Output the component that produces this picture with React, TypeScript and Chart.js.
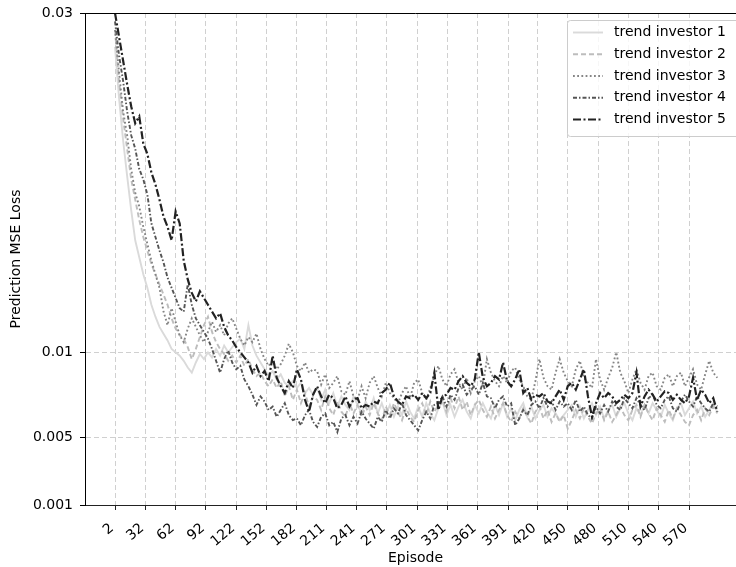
import React, { useEffect, useRef } from "react";
import { Chart, registerables } from "chart.js";

Chart.register(...registerables);

const EPISODES = [
  2, 6, 10, 14, 18, 22, 26, 30, 34, 38, 42, 46, 50, 54, 58, 62, 66, 70, 74, 78,
  82, 86, 90, 94, 98, 102, 106, 110, 114, 118, 122, 126, 130, 134, 138, 142, 146, 150, 154, 158,
  162, 166, 170, 174, 178, 182, 186, 190, 194, 198, 202, 206, 210, 214, 218, 222, 226, 230, 234, 238,
  242, 246, 250, 254, 258, 262, 266, 270, 274, 278, 282, 286, 290, 294, 298, 302, 306, 310, 314, 318,
  322, 326, 330, 334, 338, 342, 346, 350, 354, 358, 362, 366, 370, 374, 378, 382, 386, 390, 394, 398,
  402, 406, 410, 414, 418, 422, 426, 430, 434, 438, 442, 446, 450, 454, 458, 462, 466, 470, 474, 478,
  482, 486, 490, 494, 498, 502, 506, 510, 514, 518, 522, 526, 530, 534, 538, 542, 546, 550, 554, 558,
  562, 566, 570, 574, 578, 582, 586, 590, 594, 598,
];

const X_TICKS = [2, 32, 62, 92, 122, 152, 182, 211, 241, 271, 301, 331, 361, 391, 420, 450, 480, 510, 540, 570];
const Y_TICKS = [0.001, 0.005, 0.01, 0.03];

const SERIES_NAMES = ["trend investor 1", "trend investor 2", "trend investor 3", "trend investor 4", "trend investor 5"];

const TREND_1 = [
  0.0280, 0.0250, 0.0225, 0.0204, 0.0184, 0.0166, 0.0156, 0.0146, 0.0138, 0.0128,
  0.0121, 0.0115, 0.0111, 0.0107, 0.0102, 0.0100, 0.0098, 0.0095, 0.0091, 0.0088,
  0.0094, 0.0099, 0.0096, 0.0100, 0.0097, 0.0102, 0.0098, 0.0104, 0.0100, 0.0103,
  0.0106, 0.0108, 0.0102, 0.0116, 0.0104, 0.0098, 0.0094, 0.0090, 0.0086, 0.0089,
  0.0084, 0.0087, 0.0082, 0.0080, 0.0083, 0.0079, 0.0082, 0.0076, 0.0079, 0.0075,
  0.0079, 0.0072, 0.0078, 0.0070, 0.0076, 0.0068, 0.0074, 0.0069, 0.0066, 0.0074,
  0.0069, 0.0064, 0.0071, 0.0066, 0.0073, 0.0064, 0.0070, 0.0063, 0.0069, 0.0062,
  0.0068, 0.0063, 0.0071, 0.0065, 0.0061, 0.0068, 0.0062, 0.0070, 0.0064, 0.0060,
  0.0067, 0.0071, 0.0063, 0.0069, 0.0062, 0.0068, 0.0072, 0.0065, 0.0061, 0.0069,
  0.0064, 0.0070, 0.0065, 0.0061, 0.0069, 0.0063, 0.0070, 0.0062, 0.0067, 0.0060,
  0.0066, 0.0070, 0.0062, 0.0068, 0.0061, 0.0066, 0.0069, 0.0062, 0.0067, 0.0064,
  0.0060, 0.0063, 0.0066, 0.0069, 0.0062, 0.0068, 0.0061, 0.0066, 0.0070, 0.0063,
  0.0068, 0.0061, 0.0066, 0.0069, 0.0062, 0.0067, 0.0070, 0.0064, 0.0060, 0.0067,
  0.0063, 0.0069, 0.0064, 0.0070, 0.0066, 0.0062, 0.0069, 0.0064, 0.0060, 0.0067,
  0.0070, 0.0063, 0.0067, 0.0071, 0.0064, 0.0068, 0.0062, 0.0066, 0.0070, 0.0065,
];

const TREND_2 = [
  0.0290, 0.0260, 0.0238, 0.0220, 0.0202, 0.0190, 0.0178, 0.0168, 0.0160, 0.0152,
  0.0146, 0.0140, 0.0134, 0.0128, 0.0120, 0.0114, 0.0110, 0.0108, 0.0103, 0.0096,
  0.0102, 0.0109, 0.0116, 0.0121, 0.0112, 0.0106, 0.0102, 0.0099, 0.0095, 0.0098,
  0.0094, 0.0098, 0.0092, 0.0096, 0.0090, 0.0086, 0.0088, 0.0083, 0.0080, 0.0084,
  0.0079, 0.0083, 0.0074, 0.0080, 0.0072, 0.0078, 0.0070, 0.0076, 0.0068, 0.0074,
  0.0072, 0.0066, 0.0074, 0.0067, 0.0063, 0.0071, 0.0065, 0.0062, 0.0070, 0.0064,
  0.0069, 0.0062, 0.0068, 0.0063, 0.0070, 0.0064, 0.0060, 0.0068, 0.0063, 0.0070,
  0.0065, 0.0060, 0.0067, 0.0062, 0.0059, 0.0066, 0.0070, 0.0063, 0.0071, 0.0065,
  0.0069, 0.0072, 0.0065, 0.0073, 0.0067, 0.0074, 0.0066, 0.0071, 0.0063, 0.0069,
  0.0072, 0.0066, 0.0062, 0.0068, 0.0061, 0.0066, 0.0070, 0.0063, 0.0059, 0.0065,
  0.0061, 0.0067, 0.0062, 0.0058, 0.0065, 0.0068, 0.0061, 0.0066, 0.0059, 0.0064,
  0.0059, 0.0063, 0.0055, 0.0060, 0.0066, 0.0061, 0.0067, 0.0062, 0.0058, 0.0064,
  0.0067, 0.0060, 0.0065, 0.0059, 0.0063, 0.0068, 0.0063, 0.0060, 0.0066, 0.0069,
  0.0062, 0.0069, 0.0064, 0.0060, 0.0067, 0.0063, 0.0059, 0.0066, 0.0061, 0.0067,
  0.0063, 0.0059, 0.0057, 0.0063, 0.0066, 0.0060, 0.0067, 0.0063, 0.0068, 0.0064,
];

const TREND_3 = [
  0.0290, 0.0265, 0.0242, 0.0228, 0.0208, 0.0194, 0.0186, 0.0174, 0.0164, 0.0154,
  0.0146, 0.0138, 0.0124, 0.0116, 0.0126, 0.0118, 0.0110, 0.0106, 0.0114, 0.0120,
  0.0115, 0.0110, 0.0106, 0.0112, 0.0118, 0.0112, 0.0116, 0.0110, 0.0117, 0.0120,
  0.0114, 0.0108, 0.0104, 0.0109, 0.0106, 0.0111, 0.0102, 0.0096, 0.0092, 0.0095,
  0.0090, 0.0093, 0.0098, 0.0105, 0.0100, 0.0092, 0.0089, 0.0094, 0.0088, 0.0090,
  0.0089, 0.0081, 0.0087, 0.0079, 0.0082, 0.0086, 0.0077, 0.0075, 0.0083, 0.0074,
  0.0072, 0.0080, 0.0073, 0.0082, 0.0086, 0.0079, 0.0074, 0.0082, 0.0076, 0.0073,
  0.0070, 0.0076, 0.0080, 0.0073, 0.0082, 0.0084, 0.0076, 0.0072, 0.0079, 0.0086,
  0.0092, 0.0084, 0.0080, 0.0087, 0.0090, 0.0082, 0.0078, 0.0085, 0.0076, 0.0083,
  0.0086, 0.0080, 0.0096, 0.0088, 0.0083, 0.0080, 0.0086, 0.0082, 0.0089, 0.0091,
  0.0084, 0.0080, 0.0074, 0.0072, 0.0083, 0.0096, 0.0085, 0.0080, 0.0078, 0.0088,
  0.0096, 0.0088, 0.0083, 0.0080, 0.0090, 0.0095, 0.0085, 0.0082, 0.0079, 0.0096,
  0.0084, 0.0078, 0.0085, 0.0091, 0.0100, 0.0088, 0.0083, 0.0076, 0.0084, 0.0090,
  0.0082, 0.0078, 0.0086, 0.0088, 0.0080, 0.0078, 0.0085, 0.0087, 0.0080, 0.0086,
  0.0088, 0.0080, 0.0085, 0.0090, 0.0081, 0.0078, 0.0087, 0.0095, 0.0088, 0.0085,
];

const TREND_4 = [
  0.0295, 0.0275, 0.0260, 0.0242, 0.0228, 0.0220, 0.0208, 0.0202, 0.0193, 0.0176,
  0.0168, 0.0160, 0.0153, 0.0144, 0.0138, 0.0132, 0.0126, 0.0124, 0.0140, 0.0128,
  0.0120, 0.0116, 0.0112, 0.0108, 0.0102, 0.0095, 0.0088, 0.0096, 0.0101, 0.0094,
  0.0090, 0.0092, 0.0084, 0.0080, 0.0075, 0.0069, 0.0074, 0.0071, 0.0066, 0.0068,
  0.0062, 0.0066, 0.0070, 0.0063, 0.0060, 0.0061, 0.0057, 0.0063, 0.0066, 0.0059,
  0.0056, 0.0062, 0.0064, 0.0057, 0.0059, 0.0053, 0.0061, 0.0063, 0.0057, 0.0062,
  0.0058, 0.0065, 0.0061, 0.0058, 0.0055, 0.0062, 0.0059, 0.0066, 0.0061, 0.0067,
  0.0064, 0.0070, 0.0063, 0.0060, 0.0057, 0.0054, 0.0060, 0.0065, 0.0061, 0.0069,
  0.0070, 0.0074, 0.0068, 0.0075, 0.0072, 0.0079, 0.0081, 0.0075, 0.0078, 0.0080,
  0.0075, 0.0082, 0.0074, 0.0073, 0.0067, 0.0072, 0.0074, 0.0068, 0.0070, 0.0057,
  0.0061, 0.0066, 0.0063, 0.0069, 0.0071, 0.0067, 0.0073, 0.0068, 0.0071, 0.0066,
  0.0071, 0.0068, 0.0070, 0.0066, 0.0072, 0.0065, 0.0068, 0.0063, 0.0061, 0.0068,
  0.0064, 0.0069, 0.0065, 0.0071, 0.0068, 0.0066, 0.0073, 0.0070, 0.0067, 0.0073,
  0.0069, 0.0066, 0.0073, 0.0075, 0.0069, 0.0067, 0.0072, 0.0074, 0.0067, 0.0065,
  0.0071, 0.0075, 0.0071, 0.0068, 0.0074, 0.0070, 0.0067, 0.0065, 0.0070, 0.0068,
];

const TREND_5 = [
  0.0300, 0.0286, 0.0272, 0.0258, 0.0245, 0.0235, 0.0239, 0.0223, 0.0217, 0.0206,
  0.0199, 0.0190, 0.0180, 0.0174, 0.0166, 0.0183, 0.0176, 0.0154, 0.0143, 0.0135,
  0.0130, 0.0136, 0.0132, 0.0128, 0.0124, 0.0120, 0.0123, 0.0115, 0.0110, 0.0107,
  0.0103, 0.0100, 0.0097, 0.0094, 0.0088, 0.0092, 0.0086, 0.0089, 0.0083, 0.0098,
  0.0085, 0.0080, 0.0076, 0.0083, 0.0079, 0.0090, 0.0084, 0.0072, 0.0065, 0.0075,
  0.0080, 0.0074, 0.0070, 0.0075, 0.0073, 0.0067, 0.0069, 0.0074, 0.0068, 0.0072,
  0.0073, 0.0067, 0.0069, 0.0068, 0.0071, 0.0070, 0.0076, 0.0078, 0.0082, 0.0074,
  0.0071, 0.0069, 0.0074, 0.0073, 0.0075, 0.0072, 0.0076, 0.0073, 0.0076, 0.0088,
  0.0066, 0.0074, 0.0075, 0.0079, 0.0078, 0.0083, 0.0086, 0.0082, 0.0080, 0.0084,
  0.0100, 0.0085, 0.0080, 0.0082, 0.0086, 0.0084, 0.0094, 0.0083, 0.0080, 0.0084,
  0.0090, 0.0076, 0.0079, 0.0072, 0.0075, 0.0074, 0.0076, 0.0071, 0.0070, 0.0074,
  0.0078, 0.0072, 0.0080, 0.0082, 0.0078, 0.0084, 0.0090, 0.0074, 0.0062, 0.0070,
  0.0076, 0.0073, 0.0076, 0.0074, 0.0070, 0.0072, 0.0075, 0.0073, 0.0076, 0.0088,
  0.0068, 0.0074, 0.0078, 0.0075, 0.0071, 0.0074, 0.0077, 0.0076, 0.0072, 0.0075,
  0.0072, 0.0070, 0.0074, 0.0085, 0.0072, 0.0078, 0.0075, 0.0070, 0.0073, 0.0065,
];

const SERIES = [TREND_1, TREND_2, TREND_3, TREND_4, TREND_5];
const COLORS = ["#dadada", "#bdbdbd", "#858585", "#555555", "#222222"];
const DASHES = [[], [5, 3], [1.8, 2.4], [4, 2, 1.5, 2], [8, 2.5, 2, 2.5]];
const WIDTHS = [1.9, 1.9, 1.9, 1.9, 2.2];

const FONT = "DejaVu Sans";
const FONT_SIZE = 14;
const CANVAS_W = 746;
const CANVAS_H = 567;

const framePlugin = {
  id: "frameAndLegend",
  afterDraw(chart: any) {
    const ctx = chart.ctx;
    const area = chart.chartArea;
    ctx.save();
    // top spine
    ctx.beginPath();
    ctx.strokeStyle = "#000000";
    ctx.lineWidth = 1;
    ctx.moveTo(area.left, Math.round(area.top) + 0.5);
    ctx.lineTo(area.right, Math.round(area.top) + 0.5);
    ctx.stroke();

    // legend box
    const bx = 567.5;
    const by = 20.5;
    const bw = 172;
    const bh = 116;
    ctx.beginPath();
    if ((ctx as any).roundRect) {
      (ctx as any).roundRect(bx, by, bw, bh, 3);
    } else {
      ctx.rect(bx, by, bw, bh);
    }
    ctx.fillStyle = "rgba(255,255,255,0.8)";
    ctx.fill();
    ctx.strokeStyle = "#cccccc";
    ctx.lineWidth = 1;
    ctx.stroke();

    ctx.font = `${FONT_SIZE}px "${FONT}"`;
    ctx.textBaseline = "middle";
    ctx.textAlign = "left";
    SERIES_NAMES.forEach((name, k) => {
      const y = 32.5 + k * 21.75;
      ctx.beginPath();
      ctx.setLineDash(DASHES[k]);
      ctx.strokeStyle = COLORS[k];
      ctx.lineWidth = WIDTHS[k];
      ctx.moveTo(573, y);
      ctx.lineTo(603, y);
      ctx.stroke();
      ctx.setLineDash([]);
      ctx.fillStyle = "#000000";
      ctx.fillText(name, 614, y);
    });
    ctx.restore();
  },
};

export default function App() {
  const canvasRef = useRef<HTMLCanvasElement | null>(null);

  useEffect(() => {
    const canvas = canvasRef.current;
    if (!canvas) return;
    Chart.defaults.font.family = FONT;
    Chart.defaults.font.size = FONT_SIZE;
    Chart.defaults.color = "#000000";

    const datasets = SERIES.map((values, k) => ({
      label: SERIES_NAMES[k],
      data: values.map((v, i) => ({ x: EPISODES[i], y: v })),
      borderColor: COLORS[k],
      backgroundColor: COLORS[k],
      borderWidth: WIDTHS[k],
      borderDash: DASHES[k],
      pointRadius: 0,
      tension: 0,
      fill: false,
      order: 5 - k,
    }));

    const chart = new Chart(canvas, {
      type: "line",
      data: { datasets },
      plugins: [framePlugin],
      options: {
        animation: false,
        responsive: false,
        devicePixelRatio: 1,
        layout: { padding: { top: 13, left: 0, right: 0, bottom: 0 } },
        plugins: { legend: { display: false }, tooltip: { enabled: false } },
        scales: {
          x: {
            type: "linear",
            min: -27.69,
            max: 626.4,
            afterBuildTicks: (scale: any) => {
              scale.ticks = X_TICKS.map((v) => ({ value: v }));
            },
            afterFit: (scale: any) => {
              scale.height = 62;
              scale.paddingLeft = 0;
              scale.paddingRight = 0;
            },
            ticks: {
              autoSkip: false,
              minRotation: 40,
              maxRotation: 40,
              padding: 10,
              labelOffset: -3,
              color: "#000000",
              font: { family: FONT, size: FONT_SIZE },
              callback: (v: any) => String(v),
            },
            grid: {
              color: "#d0d0d0",
              lineWidth: 1,
              drawTicks: true,
              tickLength: 5,
              tickColor: "#222222",
              tickWidth: 1,
              tickBorderDash: [],
            },
            border: { display: true, color: "#222222", width: 1, dash: [5, 3] },
            title: {
              display: true,
              text: "Episode",
              color: "#000000",
              font: { family: FONT, size: FONT_SIZE },
              padding: { top: 0, bottom: 0 },
            },
          },
          y: {
            type: "linear",
            min: 0.001,
            max: 0.03,
            afterBuildTicks: (scale: any) => {
              scale.ticks = Y_TICKS.map((v) => ({ value: v }));
            },
            afterFit: (scale: any) => {
              scale.width = 85;
              scale.paddingTop = 0;
              scale.paddingBottom = 0;
            },
            ticks: {
              autoSkip: false,
              padding: 7,
              color: "#000000",
              font: { family: FONT, size: FONT_SIZE },
              callback: (v: any) => String(v),
            },
            grid: {
              color: "#d0d0d0",
              lineWidth: 1,
              drawTicks: true,
              tickLength: 5,
              tickColor: "#000000",
              tickWidth: 1,
              tickBorderDash: [],
            },
            border: { display: true, color: "#000000", width: 1, dash: [5, 3] },
            title: {
              display: true,
              text: "Prediction MSE Loss",
              color: "#000000",
              font: { family: FONT, size: FONT_SIZE },
              padding: { top: 8, bottom: 0 },
            },
          },
        },
      },
    } as any);

    return () => chart.destroy();
  }, []);

  return (
    <div
      style={{
        position: "absolute",
        left: 0,
        top: 0,
        width: 736,
        height: 567,
        overflow: "hidden",
        background: "#ffffff",
      }}
    >
      <canvas ref={canvasRef} width={CANVAS_W} height={CANVAS_H} style={{ display: "block" }} />
    </div>
  );
}
